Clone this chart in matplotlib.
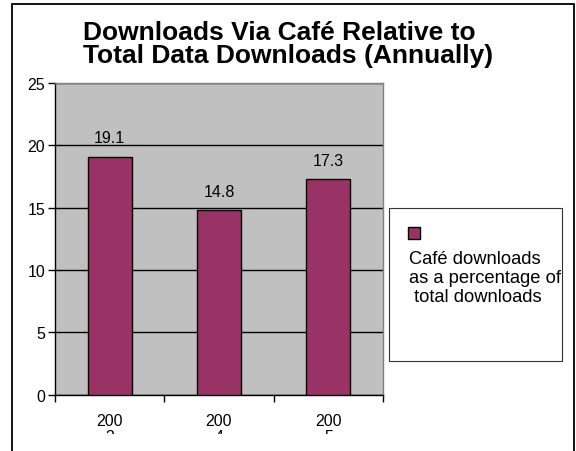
import matplotlib
matplotlib.use('Agg')
from matplotlib import pyplot as plt
from matplotlib.patches import Rectangle
from matplotlib.transforms import Bbox, TransformedBbox

plt.rcParams['font.family'] = ['Liberation Sans', 'DejaVu Sans']

# data
years = ['200\n3', '200\n4', '200\n5']
pct_cafe = [19.1, 14.8, 17.3]
title_lines = ['Downloads Via Café Relative to', 'Total Data Downloads (Annually)']
series_lines = ['Café downloads', 'as a percentage of', ' total downloads']
y_ticks = [0, 5, 10, 15, 20, 25]

W, H = 576, 452
bar_color = '#993366'
plot_bg = '#C0C0C0'

fig = plt.figure(figsize=(W / 100, H / 100), dpi=100)


def fx(px):
    return px / W


def fy(py):
    return 1 - py / H


# outer chart frame (runs off the bottom edge)
fig.add_artist(Rectangle((fx(12), fy(470)), fx(574) - fx(12), fy(5) - fy(470),
                         transform=fig.transFigure, fill=False,
                         edgecolor='black', linewidth=1.3))

# title, left aligned, one line at a time
for i, line in enumerate(title_lines):
    fig.text(fx(83), fy(39.5 + i * 24), line, fontsize=19, fontweight='bold',
             ha='left', va='baseline')

ax = fig.add_axes([fx(55), fy(395.7), fx(383) - fx(55), fy(84) - fy(395.7)])
ax.set_facecolor(plot_bg)

x = range(len(years))
bars = ax.bar(x, pct_cafe, width=0.4, color=bar_color, edgecolor='black',
              linewidth=1.0, zorder=3)
ax.bar_label(bars, fmt='%.1f', padding=8, fontsize=11.5)

ax.set_xlim(-0.5, len(years) - 0.5)
ax.set_ylim(0, 25)
ax.set_yticks(y_ticks)
ax.tick_params(axis='y', labelsize=11.5, length=5, width=1, pad=2)
ax.yaxis.grid(True, color='black', linewidth=1)
ax.set_axisbelow(True)

# category labels centred, tick marks on the boundaries between them
ax.set_xticks(list(x))
ax.set_xticklabels(years, fontsize=11.5, linespacing=1.05)
ax.tick_params(axis='x', which='major', length=0, pad=13.5)
ax.set_xticks([-0.5, 0.5, 1.5, 2.5], minor=True)
ax.tick_params(axis='x', which='minor', length=5, width=1)

# wrapped year labels are cut off by the chart's lower edge
clip = TransformedBbox(Bbox.from_extents(0, fy(435), 1, 1), fig.transFigure)
for lbl in ax.get_xticklabels():
    lbl.set_clip_on(True)
    lbl.set_clip_box(clip)

for side in ['top', 'right']:
    ax.spines[side].set_color('#808080')
    ax.spines[side].set_linewidth(1)
for side in ['left', 'bottom']:
    ax.spines[side].set_color('black')
    ax.spines[side].set_linewidth(1)

# legend box drawn by hand: key swatch above the wrapped label
fig.add_artist(Rectangle((fx(389), fy(362)), fx(562) - fx(389), fy(209) - fy(362),
                         transform=fig.transFigure, facecolor='white',
                         edgecolor='#333333', linewidth=0.8))
fig.add_artist(Rectangle((fx(408), fy(240)), fx(420) - fx(408), fy(228) - fy(240),
                         transform=fig.transFigure, facecolor=bar_color,
                         edgecolor='black', linewidth=1))
for i, line in enumerate(series_lines):
    fig.text(fx(409), fy(264.3 + i * 18.7), line, fontsize=13.2,
             ha='left', va='baseline')

fig.savefig('out.png', dpi=100)
